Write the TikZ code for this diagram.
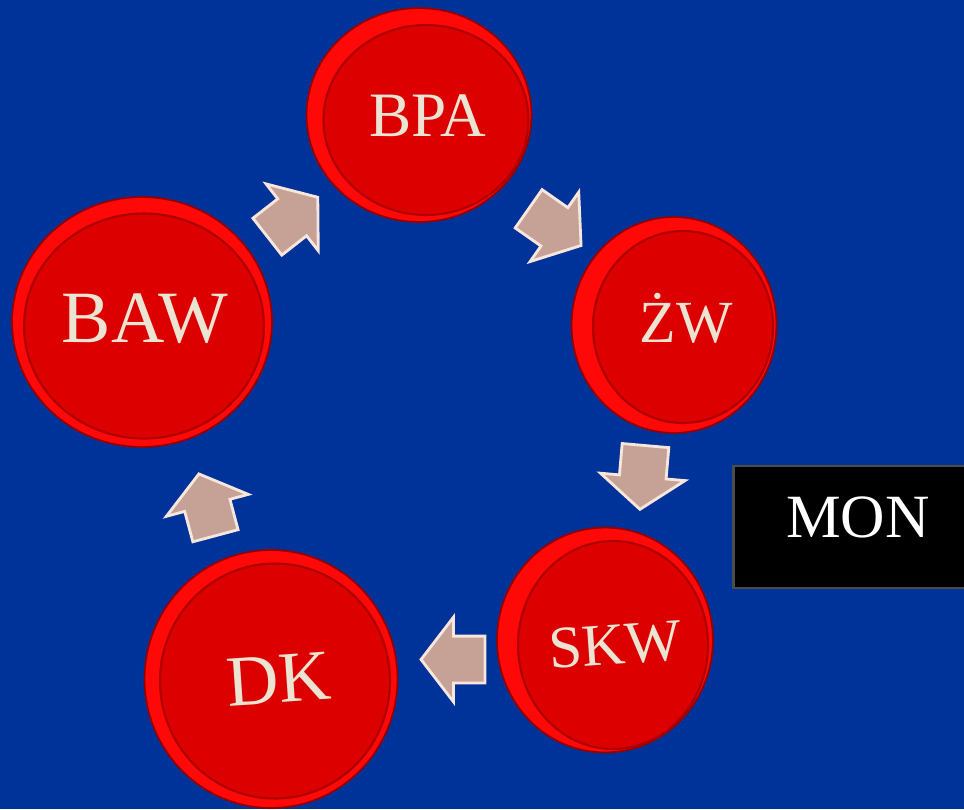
\documentclass[tikz,border=0pt]{standalone}
\usepackage{fontspec}
\setmainfont{Liberation Serif}
\usetikzlibrary{shapes.geometric,shapes.arrows,calc}

\definecolor{slideblue}{RGB}{0,51,153}
\definecolor{rimred}{RGB}{255,8,8}
\definecolor{rimdark}{RGB}{150,0,0}
\definecolor{facered}{RGB}{220,0,0}
\definecolor{facedark}{RGB}{175,0,0}
\definecolor{labelcream}{RGB}{236,228,210}
\definecolor{arrowtan}{RGB}{198,162,150}
\definecolor{arrowlight}{RGB}{248,230,220}

\tikzset{
  rim/.style={ellipse, fill=rimred, draw=rimdark, line width=1pt, inner sep=0pt},
  face/.style={ellipse, fill=facered, draw=facedark, line width=1.2pt, inner sep=0pt},
  label/.style={text=labelcream, inner sep=0pt},
  blockarrow/.style={single arrow, fill=arrowtan, draw=arrowlight, line width=1.6pt,
    inner sep=0pt, minimum height=1.28cm,
    single arrow head extend=0.38cm, single arrow tip angle=105},
  monbox/.style={rectangle, fill=black, draw=black!70, line width=1.5pt, inner sep=0pt}
}
\newcommand{\shaft}{\rule{0pt}{0.88cm}}

\begin{document}
\begin{tikzpicture}[x=0.02cm, y=-0.02cm]
  \useasboundingbox (0,0) rectangle (964,809);
  \fill[slideblue] (0,0) rectangle (964,809);

  % buttons
  \node[rim, minimum width=4.5cm, minimum height=4.28cm] (bpa) at (419,115) {};
  \node[face, minimum width=4.1cm, minimum height=3.8cm] (bpa-face) at (426,120) {};
  \node[label, font=\fontsize{36}{36}\selectfont] (bpa-text) at (428,116) {BPA};

  \node[rim, minimum width=4.1cm, minimum height=4.32cm] (zw) at (674,325) {};
  \node[face, minimum width=3.6cm, minimum height=3.84cm] (zw-face) at (683,327) {};
  \node[label, font=\fontsize{34}{34}\selectfont] (zw-text) at (686,318) {ŻW};

  \node[rim, minimum width=5.2cm, minimum height=5.0cm] (baw) at (142,322) {};
  \node[face, minimum width=4.8cm, minimum height=4.5cm] (baw-face) at (144,326) {};
  \node[label, font=\fontsize{42}{42}\selectfont] (baw-text) at (145,319) {BAW};

  \node[rim, minimum width=4.32cm, minimum height=4.5cm] (skw) at (605,640) {};
  \node[face, minimum width=3.8cm, minimum height=4.16cm] (skw-face) at (613,645) {};
  \node[label, font=\fontsize{34}{34}\selectfont, rotate=4] (skw-text) at (615,645) {SKW};

  \node[rim, minimum width=5.06cm, minimum height=5.16cm] (dk) at (271,679) {};
  \node[face, minimum width=4.6cm, minimum height=4.7cm] (dk-face) at (275,681) {};
  \node[label, font=\fontsize{41}{41}\selectfont, rotate=4] (dk-text) at (279,679) {DK};

  % arrows between the buttons
  \node[blockarrow, rotate=38] (a1) at ($(baw)!0.5!(bpa)+(5,4)$) {\shaft};
  \node[blockarrow, rotate=-35] (a2) at ($(bpa)!0.5!(zw)+(1,2)$) {\shaft};
  \node[blockarrow, rotate=-95] (a3) at ($(zw)!0.5!(skw)+(4,-14)$) {\shaft};
  \node[blockarrow, rotate=180] (a4) at ($(skw)!0.5!(dk)+(24,0)$) {\shaft};
  \node[blockarrow, rotate=105] (a5) at ($(dk)!0.5!(baw)+(3,13)$) {\shaft};

  % side box
  \node[monbox, minimum width=4.9cm, minimum height=2.44cm] (mon) at (856,527) {};
  \node[text=white, inner sep=0pt, font=\fontsize{35}{35}\selectfont] (mon-text) at (858,517) {MON};
\end{tikzpicture}
\end{document}
